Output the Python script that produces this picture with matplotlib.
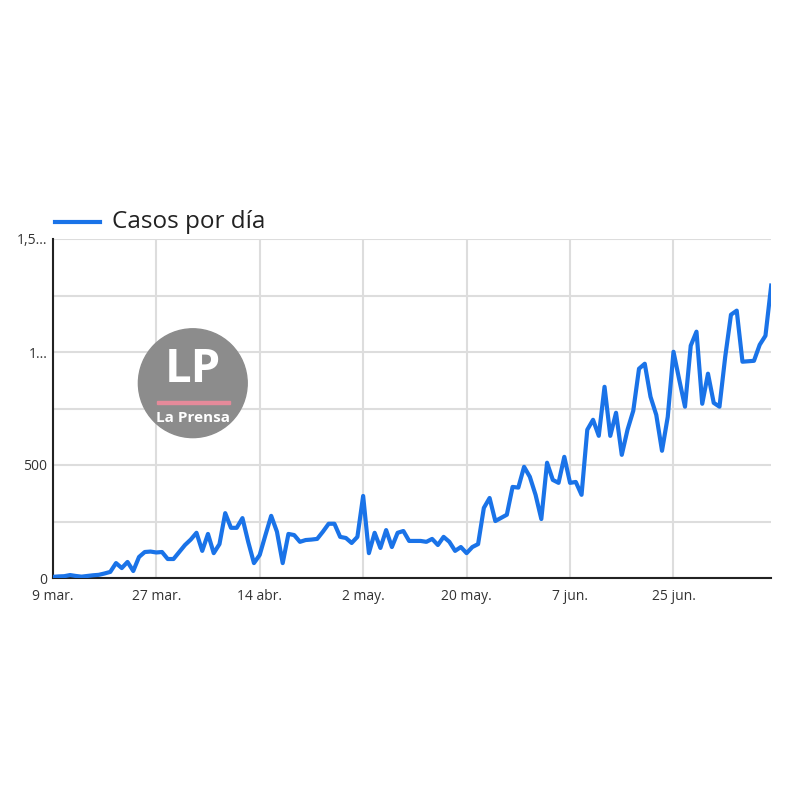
import matplotlib.pyplot as plt
from matplotlib.patches import Circle, Rectangle

# daily cases, day 0 = 9 mar.
casos = [5, 7, 8, 13, 9, 6, 9, 12, 14, 20, 27, 66, 44, 71, 31, 93, 115, 117, 113, 115,
         84, 84, 115, 146, 170, 200, 120, 195, 110, 150, 287, 222, 222, 265, 160, 66, 102, 190, 275, 205,
         66, 195, 190, 160, 168, 170, 173, 205, 240, 240, 182, 177, 155, 182, 363, 110, 200, 133, 212, 137,
         200, 208, 164, 164, 164, 160, 173, 146, 182, 160, 120, 137, 110, 137, 150, 310, 354, 252, 266, 280,
         403, 400, 492, 448, 368, 261, 510, 434, 421, 536, 421, 425, 368, 656, 700, 629, 846, 629, 731, 545,
         656, 740, 926, 948, 802, 722, 563, 713, 1001, 877, 758, 1028, 1090, 771, 904, 775, 758, 979, 1165, 1183,
         957, 959, 961, 1032, 1072, 1294]
x_ticks = [0, 18, 36, 54, 72, 90, 108]
x_labels = ["9 mar.", "27 mar.", "14 abr.", "2 may.", "20 may.", "7 jun.", "25 jun."]
y_ticks = [0, 500, 1000, 1500]
y_labels = ["0", "500", "1...", "1,5..."]

plt.rcParams["font.family"] = ["Open Sans", "DejaVu Sans"]
fig = plt.figure(figsize=(8, 8), dpi=100)
ax = fig.add_axes([0.066, 0.2775, 0.898, 0.42375])

ax.plot(range(len(casos)), casos, color="#1a73e8", linewidth=3, zorder=3)
ax.set_xlim(0, len(casos) - 1)
ax.set_ylim(0, 1500)
ax.set_xticks(x_ticks)
ax.set_xticklabels(x_labels, fontsize=10, color="#333333")
ax.set_yticks(y_ticks)
ax.set_yticklabels(y_labels, fontsize=10, color="#333333")
ax.set_yticks(range(0, 1501, 250), minor=True)
ax.grid(True, which="major", color="#dddddd", linewidth=1.5)
ax.grid(True, which="minor", axis="y", color="#dddddd", linewidth=1.5)
ax.tick_params(length=0, which="both", pad=4)
ax.tick_params(axis="x", pad=8)
for side in ["top", "right"]:
    ax.spines[side].set_visible(False)
for side in ["left", "bottom"]:
    ax.spines[side].set_color("#222222")
    ax.spines[side].set_linewidth(1.5)

# legend
fig.add_artist(plt.Line2D([0.069, 0.125], [0.7225, 0.7225], color="#1a73e8", linewidth=3))
fig.text(0.14, 0.7225, "Casos por día", fontsize=17.5, va="center", color="#222222")

# logo
fig.add_artist(Circle((0.241, 0.521), 0.068, transform=fig.transFigure, color="#8c8c8c", zorder=5))
fig.text(0.241, 0.538, "LP", fontsize=34, fontweight="bold", color="white", ha="center", va="center", zorder=6)
fig.add_artist(Rectangle((0.196, 0.495), 0.092, 0.004, transform=fig.transFigure, color="#e58a9a", zorder=6))
fig.text(0.241, 0.478, "La Prensa", fontsize=11, fontweight="bold", color="white", ha="center", va="center", zorder=6)

fig.savefig("out.png", dpi=100)
